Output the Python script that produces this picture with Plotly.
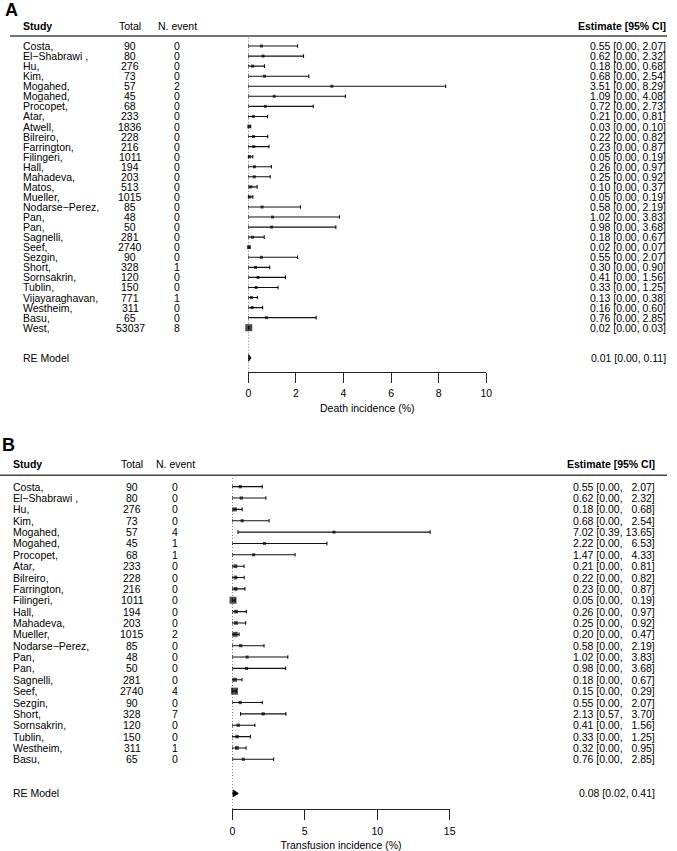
import plotly.graph_objects as go

W, H = 677, 851
FONT = "Liberation Sans, Arial, Helvetica, sans-serif"
FS = 10.5

# ---------------- Panel A: death incidence ----------------
a_study = ["Costa,", "El\u2212Shabrawi ,", "Hu,", "Kim,", "Mogahed,", "Mogahed,", "Procopet,",
           "Atar,", "Atwell,", "Bilreiro,", "Farrington,", "Filingeri,", "Hall,", "Mahadeva,",
           "Matos,", "Mueller,", "Nodarse\u2212Perez,", "Pan,", "Pan,", "Sagnelli,", "Seef,",
           "Sezgin,", "Short,", "Sornsakrin,", "Tublin,", "Vijayaraghavan,", "Westheim,",
           "Basu,", "West,"]
a_total = [90, 80, 276, 73, 57, 45, 68,
           233, 1836, 228, 216, 1011, 194, 203,
           513, 1015, 85, 48, 50, 281, 2740,
           90, 328, 120, 150, 771, 311,
           65, 53037]
a_event = [0, 0, 0, 0, 2, 0, 0,
           0, 0, 0, 0, 0, 0, 0,
           0, 0, 0, 0, 0, 0, 0,
           0, 1, 0, 0, 1, 0,
           0, 8]
a_est = [0.55, 0.62, 0.18, 0.68, 3.51, 1.09, 0.72,
         0.21, 0.03, 0.22, 0.23, 0.05, 0.26, 0.25,
         0.10, 0.05, 0.58, 1.02, 0.98, 0.18, 0.02,
         0.55, 0.30, 0.41, 0.33, 0.13, 0.16,
         0.76, 0.02]
a_lo = [0.00, 0.00, 0.00, 0.00, 0.00, 0.00, 0.00,
        0.00, 0.00, 0.00, 0.00, 0.00, 0.00, 0.00,
        0.00, 0.00, 0.00, 0.00, 0.00, 0.00, 0.00,
        0.00, 0.00, 0.00, 0.00, 0.00, 0.00,
        0.00, 0.00]
a_hi = [2.07, 2.32, 0.68, 2.54, 8.29, 4.08, 2.73,
        0.81, 0.10, 0.82, 0.87, 0.19, 0.97, 0.92,
        0.37, 0.19, 2.19, 3.83, 3.68, 0.67, 0.07,
        2.07, 0.90, 1.56, 1.25, 0.38, 0.60,
        2.85, 0.03]
a_re = [0.01, 0.00, 0.11]          # estimate, lower, upper
a_ticks = [0, 2, 4, 6, 8, 10]
a_xtitle = "Death incidence (%)"

# ---------------- Panel B: transfusion incidence ----------------
b_study = ["Costa,", "El\u2212Shabrawi ,", "Hu,", "Kim,", "Mogahed,", "Mogahed,", "Procopet,",
           "Atar,", "Bilreiro,", "Farrington,", "Filingeri,", "Hall,", "Mahadeva,", "Mueller,",
           "Nodarse\u2212Perez,", "Pan,", "Pan,", "Sagnelli,", "Seef,", "Sezgin,", "Short,",
           "Sornsakrin,", "Tublin,", "Westheim,", "Basu,"]
b_total = [90, 80, 276, 73, 57, 45, 68,
           233, 228, 216, 1011, 194, 203, 1015,
           85, 48, 50, 281, 2740, 90, 328,
           120, 150, 311, 65]
b_event = [0, 0, 0, 0, 4, 1, 1,
           0, 0, 0, 0, 0, 0, 2,
           0, 0, 0, 0, 4, 0, 7,
           0, 0, 1, 0]
b_est = [0.55, 0.62, 0.18, 0.68, 7.02, 2.22, 1.47,
         0.21, 0.22, 0.23, 0.05, 0.26, 0.25, 0.20,
         0.58, 1.02, 0.98, 0.18, 0.15, 0.55, 2.13,
         0.41, 0.33, 0.32, 0.76]
b_lo = [0.00, 0.00, 0.00, 0.00, 0.39, 0.00, 0.00,
        0.00, 0.00, 0.00, 0.00, 0.00, 0.00, 0.00,
        0.00, 0.00, 0.00, 0.00, 0.00, 0.00, 0.57,
        0.00, 0.00, 0.00, 0.00]
b_hi = [2.07, 2.32, 0.68, 2.54, 13.65, 6.53, 4.33,
        0.81, 0.82, 0.87, 0.19, 0.97, 0.92, 0.47,
        2.19, 3.83, 3.68, 0.67, 0.29, 2.07, 3.70,
        1.56, 1.25, 0.95, 2.85]
b_re = [0.08, 0.02, 0.41]
b_ticks = [0, 5, 10, 15]
b_xtitle = "Transfusion incidence (%)"

# ---------------- layout geometry (pixels) ----------------
panels = [
    dict(label="A", study=a_study, total=a_total, event=a_event, est=a_est, lo=a_lo, hi=a_hi,
         re=a_re, ticks=a_ticks, xtitle=a_xtitle, pad=False,
         x0px=248.3, x1px=486.3, row1px=327.7, step=10.06, axispx=371.7, toppx=0.0,
         labelpx=(4, 10), study_x=22, total_x=130, event_x=177, est_x=667,
         hline=(10, 667), diamond_h=0.33, xa="x", ya="y"),
    dict(label="B", study=b_study, total=b_total, event=b_event, est=b_est, lo=b_lo, hi=b_hi,
         re=b_re, ticks=b_ticks, xtitle=b_xtitle, pad=True,
         x0px=232.3, x1px=449.7, row1px=759.3, step=11.36, axispx=809.0, toppx=425.0,
         labelpx=(1, 445), study_x=12, total_x=132, event_x=175, est_x=655.5,
         hline=(0, 667), diamond_h=0.27, xa="x2", ya="y2"),
]

fig = go.Figure()
annotations = []
shapes = []
layout_axes = {}

for p in panels:
    k = len(p["study"])
    rows = list(range(k, 0, -1))
    re_row = -2
    ylo = 1 - (p["axispx"] - p["row1px"]) / p["step"]
    yhi = 1 + (p["row1px"] - p["toppx"]) / p["step"]
    xr = p["ticks"][-1]
    xa, ya = p["xa"], p["ya"]
    yref = ya

    # marker sizes from inverse standard-error proxy (metafor style psize 0.5..1.5)
    wi = [1.0 / max(h - e, 1e-3) for e, h in zip(p["est"], p["hi"])]
    wmin, wmax = min(wi), max(wi)
    psize = [0.5 + (w - wmin) / (wmax - wmin) for w in wi]
    msize = [3 + (s - 0.5) * 4.0 for s in psize]

    # reference dotted line at 0
    fig.add_trace(go.Scatter(x=[0, 0], y=[ylo, k + 1], mode="lines",
                             line=dict(color="#222", width=1, dash="1px,2px"),
                             xaxis=xa, yaxis=ya, showlegend=False, hoverinfo="skip",
                             cliponaxis=False))
    # CIs and squares
    fig.add_trace(go.Scatter(
        x=p["est"], y=rows, mode="markers",
        marker=dict(symbol="square", size=msize, color="black", line=dict(width=0)),
        error_x=dict(type="data", symmetric=False,
                     array=[h - e for e, h in zip(p["est"], p["hi"])],
                     arrayminus=[e - l for e, l in zip(p["est"], p["lo"])],
                     color="#111", thickness=1.1, width=1.8),
        xaxis=xa, yaxis=ya, showlegend=False, cliponaxis=False))
    # RE model diamond
    e, l, h = p["re"]
    dh = p["diamond_h"]
    fig.add_trace(go.Scatter(x=[l, e, h, e, l], y=[re_row, re_row + dh, re_row, re_row - dh, re_row],
                             mode="lines", fill="toself", fillcolor="black",
                             line=dict(color="black", width=1),
                             xaxis=xa, yaxis=ya, showlegend=False, cliponaxis=False))

    # axes
    xdom = [p["x0px"] / W, p["x1px"] / W]
    ydom = [1 - p["axispx"] / H, 1 - p["toppx"] / H]
    xkey = "xaxis" if xa == "x" else "xaxis2"
    ykey = "yaxis" if ya == "y" else "yaxis2"
    layout_axes[xkey] = dict(domain=xdom, range=[0, xr], anchor=ya, showgrid=False,
                             zeroline=False, showline=True, linecolor="#222", linewidth=1.3,
                             ticks="outside", ticklen=10, tickwidth=1.3, tickcolor="#222",
                             tickvals=p["ticks"], ticktext=[str(t) for t in p["ticks"]],
                             tickfont=dict(family=FONT, size=FS, color="black"),
                             ticklabelstandoff=2,
                             title=dict(text=p["xtitle"], standoff=6,
                                        font=dict(family=FONT, size=FS, color="black")),
                             automargin=False, fixedrange=True)
    layout_axes[ykey] = dict(domain=ydom, range=[ylo, yhi], anchor=xa, visible=False,
                             fixedrange=True)

    # header line
    shapes.append(dict(type="line", xref="paper", yref=yref,
                       x0=p["hline"][0] / W, x1=p["hline"][1] / W, y0=k + 1, y1=k + 1,
                       line=dict(color="#444", width=1.5)))

    def txt(text, xpx, y, anchor, bold=False, size=FS):
        annotations.append(dict(text=f"<b>{text}</b>" if bold else text,
                                x=xpx / W, xref="paper", y=y, yref=yref,
                                xanchor=anchor, yanchor="middle", showarrow=False,
                                borderpad=0,
                                font=dict(family=FONT, size=size, color="black")))

    hdr = k + 2
    txt("Study", p["study_x"], hdr, "left", bold=True)
    txt("Total", p["total_x"], hdr, "center")
    txt("N. event", p["event_x"], hdr, "center")
    txt("Estimate [95% CI]", p["est_x"], hdr, "right", bold=True)

    def fmt(e, l, h, pad):
        hs = f"{h:.2f}"
        if pad and h < 10:
            hs = "\u00a0\u00a0" + hs
        return f"{e:.2f} [{l:.2f}, {hs}]"

    for r, s, n, ev, e_, l_, h_ in zip(rows, p["study"], p["total"], p["event"],
                                       p["est"], p["lo"], p["hi"]):
        txt(s, p["study_x"], r, "left")
        txt(str(n), p["total_x"], r, "center")
        txt(str(ev), p["event_x"], r, "center")
        txt(fmt(e_, l_, h_, p["pad"]), p["est_x"], r, "right")

    txt("RE Model", p["study_x"], re_row, "left")
    txt(fmt(e, l, h, False), p["est_x"], re_row, "right")

    # panel letter
    annotations.append(dict(text=f"<b>{p['label']}</b>", x=p["labelpx"][0] / W, xref="paper",
                            y=1 - p["labelpx"][1] / H, yref="paper", xanchor="left",
                            yanchor="middle", showarrow=False, borderpad=0,
                            font=dict(family=FONT, size=18, color="black")))

fig.update_layout(width=W, height=H, margin=dict(l=0, r=0, t=0, b=0),
                  paper_bgcolor="white", plot_bgcolor="white",
                  annotations=annotations, shapes=shapes, showlegend=False,
                  **layout_axes)

fig.write_html("out.html", config={"displayModeBar": False, "staticPlot": False},
               post_script="document.body.style.margin='0px';")
